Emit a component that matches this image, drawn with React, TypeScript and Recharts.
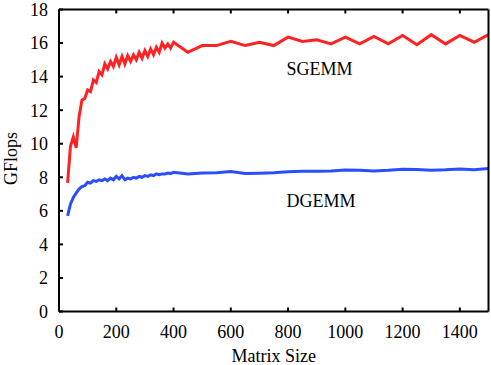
import { LineChart, Line, XAxis, YAxis, ReferenceDot } from "recharts";

const matrixSizes = [
  30, 40, 50, 60, 70, 80, 90, 100, 110, 120, 130, 140, 150, 160, 170, 180, 190, 200, 210, 220,
  230, 240, 250, 260, 270, 280, 290, 300, 310, 320, 330, 340, 350, 360, 370, 380, 390, 400,
  450, 500, 550, 600, 650, 700, 750, 800, 850, 900, 950, 1000, 1050, 1100, 1150, 1200, 1250,
  1300, 1350, 1400, 1450, 1500,
];

const sgemm = [
  7.66, 9.85, 10.4, 9.75, 11.6, 12.6, 12.7, 13.2, 13.1, 13.8, 13.65, 14.3, 14.1, 14.75, 14.45,
  14.9, 14.6, 15.15, 14.7, 15.2, 14.75, 15.25, 14.9, 15.3, 15.0, 15.45, 15.1, 15.55, 15.2, 15.65,
  15.3, 15.75, 15.45, 16.0, 15.7, 15.95, 15.7, 16.05,
  15.45, 15.85, 15.85, 16.1, 15.85, 16.05, 15.85, 16.35, 16.1, 16.2, 15.95, 16.35, 15.95, 16.4,
  15.95, 16.45, 15.9, 16.5, 15.95, 16.45, 16.05, 16.5,
];

const dgemm = [
  5.7, 6.4, 6.8, 7.05, 7.3, 7.45, 7.5, 7.7, 7.65, 7.8, 7.75, 7.85, 7.8, 7.9, 7.8, 7.95, 7.85,
  8.05, 7.9, 8.1, 7.85, 7.95, 7.9, 8.0, 7.95, 8.05, 8.0, 8.1, 8.05, 8.15, 8.1, 8.2, 8.15, 8.2,
  8.2, 8.25, 8.22, 8.3,
  8.2, 8.25, 8.27, 8.35, 8.22, 8.24, 8.27, 8.33, 8.36, 8.36, 8.38, 8.43, 8.42, 8.38, 8.42, 8.48,
  8.46, 8.42, 8.45, 8.5, 8.45, 8.52,
];

const xTicks = [0, 200, 400, 600, 800, 1000, 1200, 1400];
const yTicks = [0, 2, 4, 6, 8, 10, 12, 14, 16, 18];

const data = matrixSizes.map((n, i) => ({ n, sgemm: sgemm[i], dgemm: dgemm[i] }));

const FONT = "'Liberation Serif', 'Times New Roman', serif";
const TICK = 4;

const BottomTick = (props: any) => {
  const { x, y, payload } = props;
  return (
    <g>
      <line x1={x} y1={y} x2={x} y2={y - TICK} stroke="#000" strokeWidth={2} />
      <text x={x} y={y + 20} dy="0.355em" textAnchor="middle" fontFamily={FONT} fontSize={18} fill="#000">
        {payload.value}
      </text>
    </g>
  );
};

const TopTick = (props: any) => {
  const { x, y } = props;
  return <line x1={x} y1={y} x2={x} y2={y + TICK} stroke="#000" strokeWidth={2} />;
};

const LeftTick = (props: any) => {
  const { x, y, payload } = props;
  return (
    <g>
      <line x1={x} y1={y} x2={x + TICK} y2={y} stroke="#000" strokeWidth={2} />
      <text x={x - 11} y={y} dy="0.355em" textAnchor="end" fontFamily={FONT} fontSize={18} fill="#000">
        {payload.value}
      </text>
    </g>
  );
};

const RightTick = (props: any) => {
  const { x, y } = props;
  return <line x1={x} y1={y} x2={x - TICK} y2={y} stroke="#000" strokeWidth={2} />;
};

export default function App() {
  return (
    <div style={{ position: "absolute", left: 0, top: 0, background: "#fff" }}>
      <LineChart
        width={491}
        height={365}
        data={data}
        margin={{ top: 8.5, right: 1.5, bottom: 52.5, left: 58 }}
      >
        <XAxis
          dataKey="n"
          type="number"
          domain={[0, 1500]}
          ticks={xTicks}
          height={1}
          tickSize={0}
          tickMargin={0}
          tick={<BottomTick />}
          axisLine={{ stroke: "#000", strokeWidth: 2 }}
          label={{
            content: (p: any) => (
              <text
                x={p.viewBox.x + p.viewBox.width / 2}
                y={p.viewBox.y + 44}
                dy="0.355em"
                textAnchor="middle"
                fontFamily={FONT}
                fontSize={18}
                fill="#000"
              >
                Matrix Size
              </text>
            ),
          }}
        />
        <XAxis
          xAxisId="top"
          orientation="top"
          dataKey="n"
          type="number"
          domain={[0, 1500]}
          ticks={xTicks}
          height={1}
          tickSize={0}
          tickMargin={0}
          tick={<TopTick />}
          axisLine={{ stroke: "#000", strokeWidth: 2 }}
        />
        <YAxis
          type="number"
          domain={[0, 18]}
          ticks={yTicks}
          width={1}
          tickSize={0}
          tickMargin={0}
          tick={<LeftTick />}
          axisLine={{ stroke: "#000", strokeWidth: 2 }}
          label={{
            content: (p: any) => {
              const cx = p.viewBox.x + p.viewBox.width - 48;
              const cy = p.viewBox.y + p.viewBox.height / 2 - 2;
              return (
                <text
                  x={cx}
                  y={cy}
                  dy="0.355em"
                  transform={`rotate(-90 ${cx} ${cy})`}
                  textAnchor="middle"
                  fontFamily={FONT}
                  fontSize={18}
                  fill="#000"
                >
                  GFlops
                </text>
              );
            },
          }}
        />
        <YAxis
          yAxisId="right"
          orientation="right"
          type="number"
          domain={[0, 18]}
          ticks={yTicks}
          width={1}
          tickSize={0}
          tickMargin={0}
          tick={<RightTick />}
          axisLine={{ stroke: "#000", strokeWidth: 2 }}
        />
        <Line
          dataKey="sgemm"
          stroke="#ff2222"
          strokeWidth={3}
          dot={false}
          isAnimationActive={false}
        />
        <Line
          dataKey="dgemm"
          stroke="#2a4dff"
          strokeWidth={3}
          dot={false}
          isAnimationActive={false}
        />
        <ReferenceDot
          x={910}
          y={14.45}
          r={0}
          fill="none"
          stroke="none"
          label={{ value: "SGEMM", position: "center", fontFamily: FONT, fontSize: 18, fill: "#000" }}
        />
        <ReferenceDot
          x={915}
          y={6.6}
          r={0}
          fill="none"
          stroke="none"
          label={{ value: "DGEMM", position: "center", fontFamily: FONT, fontSize: 18, fill: "#000" }}
        />
      </LineChart>
    </div>
  );
}
